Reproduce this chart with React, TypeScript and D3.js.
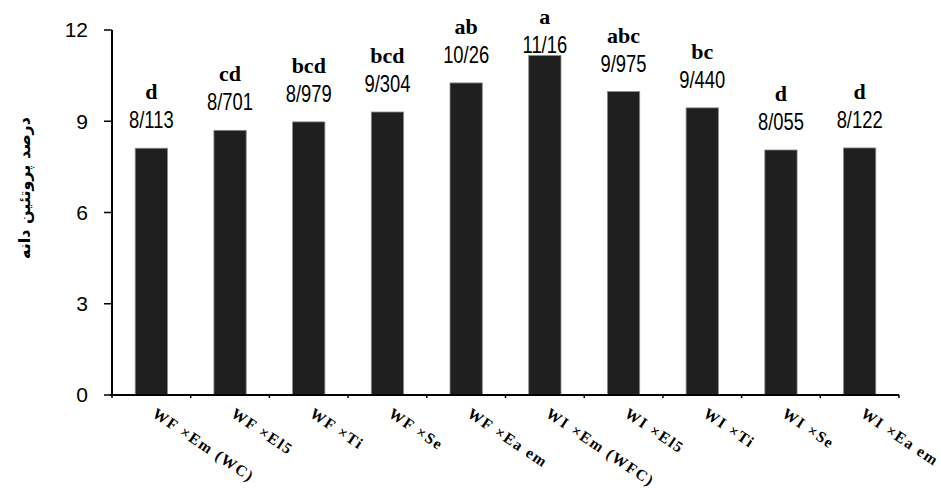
import React from "react";
import * as d3 from "d3";

const categories = [
  "WF ×Em (WC)",
  "WF ×El5",
  "WF ×Ti",
  "WF ×Se",
  "WF ×Ea em",
  "WI ×Em (WFC)",
  "WI ×El5",
  "WI ×Ti",
  "WI ×Se",
  "WI ×Ea em",
];
const values = [8.113, 8.701, 8.979, 9.304, 10.26, 11.16, 9.975, 9.44, 8.055, 8.122];
const valueLabels = ["8/113", "8/701", "8/979", "9/304", "10/26", "11/16", "9/975", "9/440", "8/055", "8/122"];
const groupLetters = ["d", "cd", "bcd", "bcd", "ab", "a", "abc", "bc", "d", "d"];
const yTicks = [0, 3, 6, 9, 12];
const yTitle = "درصد پروتئین دانه";

const W = 941;
const H = 490;
const left = 112;
const right = 899;
const top = 30;
const bottom = 395;

export default function App() {
  const x = d3.scaleBand<string>().domain(categories).range([left, right]).paddingInner(0.59).paddingOuter(0.295);
  const y = d3.scaleLinear().domain([0, 12]).range([bottom, top]);
  const step = (right - left) / categories.length;
  const boundaries = d3.range(categories.length + 1).map((i) => left + i * step);

  return (
    <svg width={W} height={H} style={{ position: "absolute", left: 0, top: 0, background: "#fff" }}>
      {/* bars */}
      {categories.map((c, i) => (
        <rect
          key={c}
          x={x(c)}
          y={y(values[i])}
          width={x.bandwidth()}
          height={bottom - y(values[i])}
          fill="#1f1f1f"
          stroke="#8a8a8a"
          strokeWidth={0.8}
        />
      ))}
      {/* y axis */}
      <line x1={left} x2={left} y1={top} y2={bottom} stroke="#000" strokeWidth={2} />
      {yTicks.map((t) => (
        <g key={t}>
          <line x1={left - 8} x2={left} y1={y(t)} y2={y(t)} stroke="#000" strokeWidth={1.5} />
          <text
            x={88}
            y={y(t)}
            dy="0.35em"
            textAnchor="end"
            fontFamily="Liberation Sans, Arial, sans-serif"
            fontSize={21}
            fill="#000"
          >
            {t}
          </text>
        </g>
      ))}
      {/* x axis */}
      <line x1={left - 2} x2={right} y1={bottom} y2={bottom} stroke="#000" strokeWidth={2} />
      {boundaries.map((b, i) => (
        <line key={i} x1={b} x2={b} y1={bottom} y2={bottom + 3} stroke="#000" strokeWidth={1.5} />
      ))}
      {/* value labels */}
      {categories.map((c, i) => {
        const cx = (x(c) as number) + x.bandwidth() / 2;
        const vy = Math.max(y(values[i]) - 20, top + 23);
        return (
          <g key={c}>
            <text
              transform={`translate(${cx},${vy}) scale(0.8,1)`}
              textAnchor="middle"
              fontFamily="Liberation Sans, Arial, sans-serif"
              fontSize={23}
              fill="#000"
            >
              {valueLabels[i]}
            </text>
            <text
              x={cx}
              y={vy - 29}
              textAnchor="middle"
              fontFamily="Liberation Serif, Times New Roman, serif"
              fontWeight="bold"
              fontSize={22}
              fill="#000"
            >
              {groupLetters[i]}
            </text>
          </g>
        );
      })}
      {/* x labels */}
      {categories.map((c) => {
        const cx = (x(c) as number) + x.bandwidth() / 2;
        return (
          <text
            key={c}
            transform={`translate(${cx},${bottom + 21}) rotate(34)`}
            textAnchor="start"
            fontFamily="Liberation Serif, Times New Roman, serif"
            fontWeight="bold"
            fontSize={15.5}
            letterSpacing={1.6}
            fill="#000"
          >
            {c}
          </text>
        );
      })}
      {/* y title */}
      <text
        transform={`translate(30,188) rotate(-90)`}
        textAnchor="middle"
        fontFamily="DejaVu Sans, sans-serif"
        fontWeight="bold"
        fontSize={16}
        fill="#000"
      >
        {yTitle}
      </text>
    </svg>
  );
}
